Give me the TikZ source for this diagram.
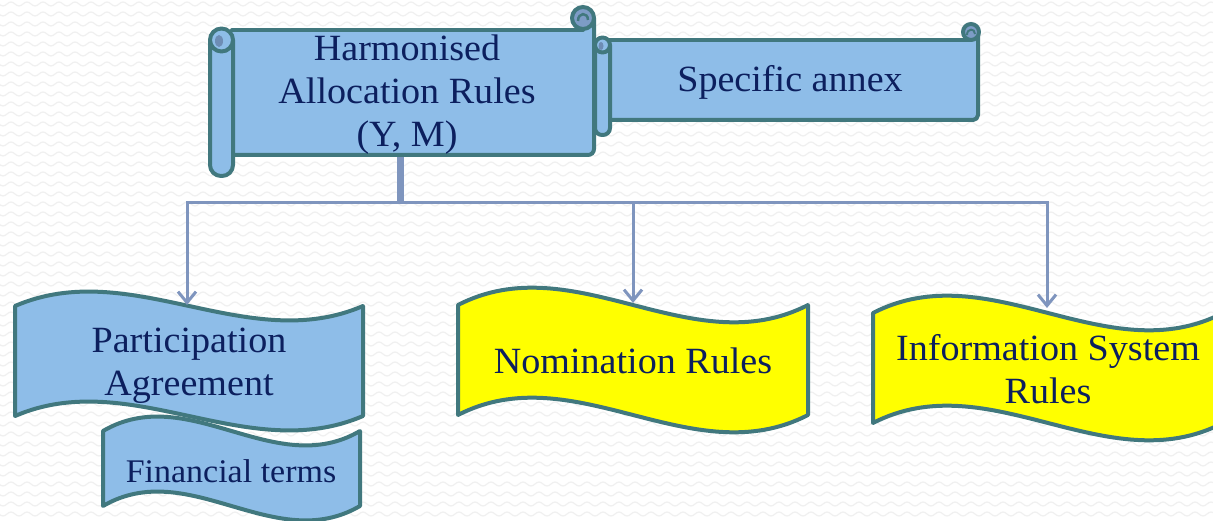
\documentclass[tikz,border=0pt]{standalone}
\usepackage{fontspec}
\setmainfont{Liberation Serif}[FakeStretch=1.03]
\usetikzlibrary{arrows.meta,decorations.pathmorphing}
\definecolor{scrollblue}{HTML}{8EBDE8}
\definecolor{edge}{HTML}{41787E}
\definecolor{curl}{HTML}{7D9CC6}
\definecolor{curldark}{HTML}{6E8DB5}
\definecolor{ink}{HTML}{0C1F5E}
\definecolor{conn}{HTML}{7F95BE}
\definecolor{bgline}{HTML}{F0F0F0}
\definecolor{waveyellow}{HTML}{FFFF00}
\newcommand{\wavepath}[5]{(#1,#3) .. controls ({#1+(#2-#1)/3},{#3-#5}) and ({#1+2*(#2-#1)/3},{#3+#5}) .. (#2,#3) -- (#2,#4) .. controls ({#1+2*(#2-#1)/3},{#4+#5}) and ({#1+(#2-#1)/3},{#4-#5}) .. (#1,#4) -- cycle}
\tikzset{
  shapeline/.style={draw=edge, line width=4pt, line join=round, line cap=round},
  txt/.style={text=ink, align=center, inner sep=0pt, font=\fontsize{37}{43}\selectfont},
  smalltxt/.style={text=ink, align=center, inner sep=0pt, font=\fontsize{33}{38}\selectfont},
  connector/.style={draw=conn, line width=3pt},
  trunkline/.style={draw=conn, line width=7pt},
  tip/.style={-{Straight Barb[length=11pt,width=18pt]}},
  bgwave/.style={draw=bgline, line width=1.2pt, decorate, decoration={snake, segment length=16pt, amplitude=2pt}}
}
\begin{document}
\begin{tikzpicture}[x=1pt,y=-1pt]
\useasboundingbox (0,0) rectangle (1213,521);
\begin{scope}
\clip (0,0) rectangle (1213,521);
\fill[white] (0,0) rectangle (1213,521);
\foreach \yy in {4,14,...,524} \draw[bgwave] (-10,\yy) -- (1230,\yy);

% ---- Harmonised Allocation Rules scroll
\fill[scrollblue] (232,30) rectangle (594,155);
\fill[scrollblue] (583,18) rectangle (594,30);
\draw[shapeline] (232,30) -- (583,30);
\draw[shapeline, rounded corners=6pt] (594,18) -- (594,155) -- (232,155);
\filldraw[shapeline, fill=curl] (583,18) circle[radius=11pt];
\draw[edge, line width=2.5pt] (578,21) .. controls (578,12) and (588,12) .. (588,20);
\filldraw[shapeline, fill=scrollblue, rounded corners=11pt] (210,40) -- (210,176) -- (233,176) -- (233,40);
\filldraw[shapeline, fill=scrollblue] (221.5,40) circle[radius=11.5pt];
\fill[curldark] (219,41) ellipse[x radius=4pt, y radius=6pt];

% ---- Specific annex scroll
\fill[scrollblue] (608,40) rectangle (978,120);
\fill[scrollblue] (971,32) rectangle (978,40);
\draw[shapeline] (608,40) -- (971,40);
\draw[shapeline, rounded corners=5pt] (978,32) -- (978,120) -- (608,120);
\filldraw[shapeline, fill=curl] (971,32) circle[radius=8pt];
\draw[edge, line width=2pt] (967,35) .. controls (967,28) and (975,28) .. (975,34);
\filldraw[shapeline, fill=scrollblue, rounded corners=7pt] (595,45) -- (595,135) -- (610,135) -- (610,45);
\filldraw[shapeline, fill=scrollblue] (602.5,45) circle[radius=7.5pt];
\fill[curldark] (601,46) ellipse[x radius=2.5pt, y radius=4pt];

% ---- wave shapes
\filldraw[shapeline, fill=scrollblue] \wavepath{103}{360}{431}{506}{50};
\filldraw[shapeline, fill=scrollblue] \wavepath{15}{363}{306}{416}{50};
\filldraw[shapeline, fill=waveyellow] \wavepath{458}{808}{305}{415}{60};
\filldraw[shapeline, fill=waveyellow] \wavepath{873}{1223}{313}{423}{60};

% ---- texts
\node[txt] (hr) at (407,95) {Harmonised\\Allocation Rules\\(Y, M)};
\node[txt] (sa) at (790,82) {Specific annex};
\node[txt] (pa) at (189,366) {Participation\\Agreement};
\node[smalltxt] (ft) at (231,471) {Financial terms};
\node[txt] (nr) at (633,361) {Nomination Rules};
\node[txt] (is) at (1048,369) {Information System\\Rules};

% ---- connectors
\coordinate (hrbot) at (400,157);
\coordinate (split) at (400,203);
\coordinate (patop) at (187,305);
\coordinate (nrtop) at (633,303);
\coordinate (istop) at (1047,308);
\draw[trunkline] (hrbot) -- (split);
\draw[connector, tip] (split) -| (patop);
\draw[connector, tip] (split) -| (nrtop);
\draw[connector, tip] (split) -| (istop);
\end{scope}
\end{tikzpicture}
\end{document}
